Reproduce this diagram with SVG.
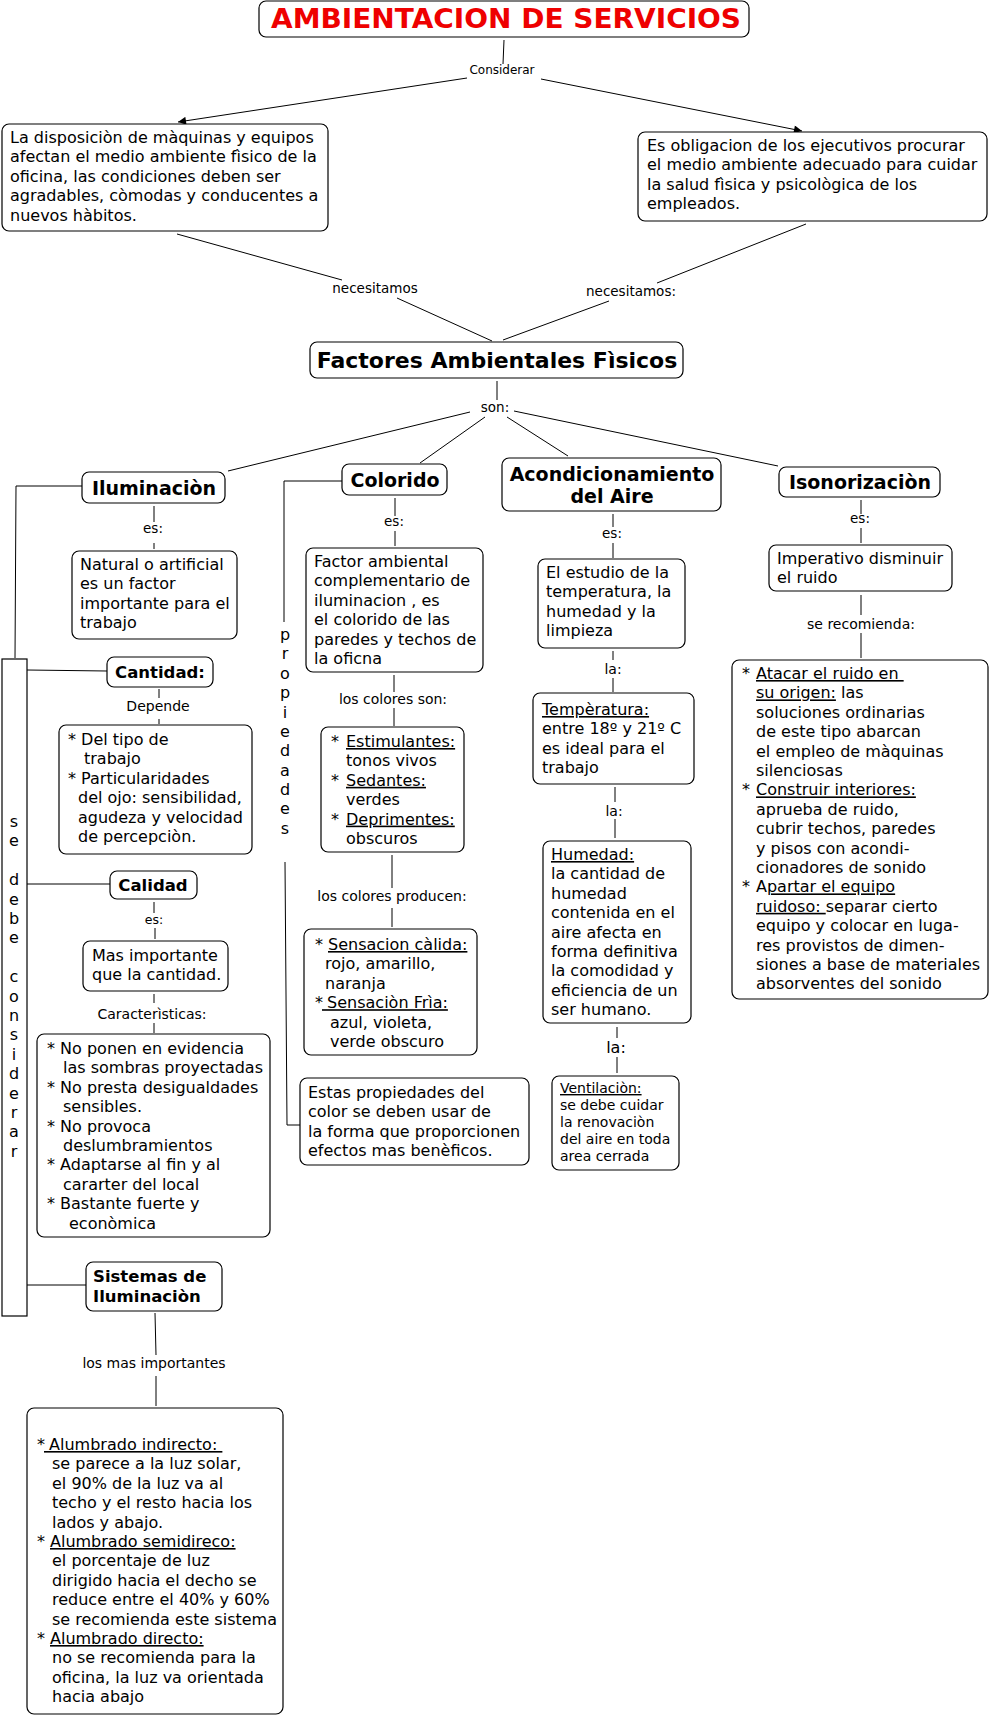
<svg xmlns="http://www.w3.org/2000/svg" width="990" height="1717" viewBox="0 0 990 1717">
<style>
text{font-family:"DejaVu Sans",Verdana,sans-serif;fill:#000}
.b{fill:#fff;stroke:#000;stroke-width:1.2}
.t{font-size:16px}
.s{font-size:14px}
.l{font-size:14px;text-anchor:middle}
.h{font-size:19px;font-weight:bold}
.m{font-size:16.5px;font-weight:bold}
.v{font-size:16px;text-anchor:middle}
.u{text-decoration:underline}
#connectors line,#connectors polyline{stroke:#000;stroke-width:1;fill:none}
</style>
<defs>
<marker id="ar" viewBox="0 0 10 10" refX="10" refY="5" markerWidth="10" markerHeight="8" markerUnits="userSpaceOnUse" orient="auto">
<path d="M0,0 L10,5 L0,10 z" fill="#000"/>
</marker>
</defs>
<rect width="990" height="1717" fill="#fff"/>

<g id="connectors">
<line x1="504" y1="40" x2="503" y2="64"/>
<line x1="467" y1="78" x2="178" y2="122" marker-end="url(#ar)"/>
<line x1="541" y1="79" x2="802" y2="131" marker-end="url(#ar)"/>
<line x1="177" y1="234" x2="342" y2="280"/>
<line x1="397" y1="298" x2="492" y2="341"/>
<line x1="806" y1="224" x2="657" y2="283"/>
<line x1="609" y1="301" x2="503" y2="340"/>
<line x1="497" y1="381" x2="497" y2="400"/>
<line x1="470" y1="412" x2="228" y2="471"/>
<line x1="485" y1="417" x2="420" y2="463"/>
<line x1="507" y1="417" x2="568" y2="456"/>
<line x1="514" y1="411" x2="778" y2="466"/>
<polyline points="82,486 16,486 15,658"/>
<line x1="154" y1="506" x2="154" y2="522"/>
<line x1="154" y1="543" x2="154" y2="549"/>
<line x1="27" y1="670" x2="107" y2="671"/>
<line x1="159" y1="689" x2="159" y2="698"/>
<line x1="159" y1="719" x2="159" y2="724"/>
<line x1="27" y1="884" x2="110" y2="884"/>
<line x1="154" y1="902" x2="154" y2="913"/>
<line x1="155" y1="928" x2="155" y2="939"/>
<line x1="154" y1="994" x2="154" y2="1003"/>
<line x1="154" y1="1023" x2="154" y2="1033"/>
<line x1="27" y1="1285" x2="86" y2="1285"/>
<line x1="155" y1="1313" x2="156" y2="1355"/>
<line x1="156" y1="1376" x2="156" y2="1406"/>
<polyline points="342,481 284,481 284,622"/>
<polyline points="285,862 287,1125 300,1125"/>
<line x1="395" y1="498" x2="395" y2="516"/>
<line x1="395" y1="531" x2="395" y2="546"/>
<line x1="394" y1="675" x2="394" y2="692"/>
<line x1="394" y1="708" x2="394" y2="726"/>
<line x1="392" y1="855" x2="392" y2="888"/>
<line x1="392" y1="908" x2="392" y2="927"/>
<line x1="613" y1="514" x2="613" y2="527"/>
<line x1="613" y1="543" x2="613" y2="558"/>
<line x1="613" y1="651" x2="613" y2="660"/>
<line x1="613" y1="678" x2="613" y2="692"/>
<line x1="615" y1="787" x2="615" y2="802"/>
<line x1="615" y1="819" x2="615" y2="838"/>
<line x1="617" y1="1027" x2="617" y2="1038"/>
<line x1="617" y1="1057" x2="617" y2="1073"/>
<line x1="861" y1="500" x2="861" y2="514"/>
<line x1="861" y1="528" x2="861" y2="543"/>
<line x1="861" y1="595" x2="861" y2="615"/>
<line x1="861" y1="633" x2="861" y2="658"/>
<text class="l" x="502" y="74" style="font-size:12px">Considerar</text>
<text class="l" x="375" y="293" style="font-size:13.5px">necesitamos</text>
<text class="l" x="631" y="296" style="font-size:13.5px">necesitamos:</text>
<text class="l" x="495" y="412" style="font-size:13.5px">son:</text>
<text class="l" x="153" y="533" style="font-size:13.5px">es:</text>
<text class="l" x="158" y="711">Depende</text>
<text class="l" x="154" y="924" style="font-size:12.5px">es:</text>
<text class="l" x="152" y="1019">Caracterìsticas:</text>
<text class="l" x="154" y="1368">los mas importantes</text>
<text class="l" x="394" y="526" style="font-size:13.5px">es:</text>
<text class="l" x="393" y="704">los colores son:</text>
<text class="l" x="392" y="901">los colores producen:</text>
<text class="l" x="612" y="538" style="font-size:13.5px">es:</text>
<text class="l" x="613" y="674">la:</text>
<text class="l" x="614" y="816">la:</text>
<text class="l" x="616" y="1053" style="font-size:16px">la:</text>
<text class="l" x="860" y="523" style="font-size:13.5px">es:</text>
<text class="l" x="861" y="629">se recomienda:</text>
</g>

<g id="title">
<rect class="b" x="259" y="1" width="490" height="36" rx="7"/>
<text x="271" y="28" style="font-size:26px;font-weight:bold;fill:#ee0000" textLength="470" lengthAdjust="spacingAndGlyphs">AMBIENTACION DE SERVICIOS</text>
</g>

<g id="disposicion">
<rect class="b" x="2" y="124" width="326" height="107" rx="7"/>
<text class="t"><tspan x="10" y="143">La disposiciòn de màquinas y equipos</tspan><tspan x="10" y="162.4">afectan el medio ambiente fìsico de la</tspan><tspan x="10" y="181.8">oficina, las condiciones deben ser</tspan><tspan x="10" y="201.2">agradables, còmodas y conducentes a</tspan><tspan x="10" y="220.6">nuevos hàbitos.</tspan></text>
</g>

<g id="obligacion">
<rect class="b" x="638" y="132" width="349" height="89" rx="7"/>
<text class="t"><tspan x="647" y="151">Es obligacion de los ejecutivos procurar</tspan><tspan x="647" y="170.4">el medio ambiente adecuado para cuidar</tspan><tspan x="647" y="189.8">la salud fìsica y psicològica de los</tspan><tspan x="647" y="209.2">empleados.</tspan></text>
</g>

<g id="factores">
<rect class="b" x="310" y="342" width="373" height="36" rx="7"/>
<text x="497" y="368" text-anchor="middle" style="font-size:22px;font-weight:bold">Factores Ambientales Fìsicos</text>
</g>

<g id="iluminacion">
<rect class="b" x="82" y="472" width="143" height="31" rx="7"/>
<text class="h" x="154" y="495" text-anchor="middle">Iluminaciòn</text>
</g>

<g id="natural">
<rect class="b" x="72" y="551" width="165" height="88" rx="7"/>
<text class="t"><tspan x="80" y="570">Natural o artificial</tspan><tspan x="80" y="589.4">es un factor</tspan><tspan x="80" y="608.8">importante para el</tspan><tspan x="80" y="628.2">trabajo</tspan></text>
</g>

<g id="considerar-bar">
<rect x="2" y="659" width="25" height="657" fill="#fff" stroke="#000" stroke-width="1.2"/>
<text class="v"><tspan x="14" y="827">s</tspan><tspan x="14" y="846.4">e</tspan><tspan x="14" y="885.2">d</tspan><tspan x="14" y="904.6">e</tspan><tspan x="14" y="924">b</tspan><tspan x="14" y="943.4">e</tspan><tspan x="14" y="982.2">c</tspan><tspan x="14" y="1001.6">o</tspan><tspan x="14" y="1021">n</tspan><tspan x="14" y="1040.4">s</tspan><tspan x="14" y="1059.8">i</tspan><tspan x="14" y="1079.2">d</tspan><tspan x="14" y="1098.6">e</tspan><tspan x="14" y="1118">r</tspan><tspan x="14" y="1137.4">a</tspan><tspan x="14" y="1156.8">r</tspan></text>
</g>

<g id="cantidad">
<rect class="b" x="107" y="657" width="106" height="30" rx="7"/>
<text class="m" x="160" y="678" text-anchor="middle">Cantidad:</text>
</g>

<g id="tipo">
<rect class="b" x="59" y="725" width="193" height="129" rx="7"/>
<text class="t"><tspan x="68" y="745">* Del tipo de</tspan><tspan x="84" y="764.4">trabajo</tspan><tspan x="68" y="783.8">* Particularidades</tspan><tspan x="78" y="803.2">del ojo: sensibilidad,</tspan><tspan x="78" y="822.6">agudeza y velocidad</tspan><tspan x="78" y="842">de percepciòn.</tspan></text>
</g>

<g id="calidad">
<rect class="b" x="110" y="871" width="87" height="28" rx="7"/>
<text class="m" x="153" y="891" text-anchor="middle">Calidad</text>
</g>

<g id="mas-importante">
<rect class="b" x="83" y="941" width="145" height="50" rx="7"/>
<text class="t"><tspan x="92" y="961">Mas importante</tspan><tspan x="92" y="980.4">que la cantidad.</tspan></text>
</g>

<g id="caracteristicas">
<rect class="b" x="37" y="1034" width="233" height="203" rx="7"/>
<text class="t"><tspan x="47" y="1054">* No ponen en evidencia</tspan><tspan x="63" y="1073.4">las sombras proyectadas</tspan><tspan x="47" y="1092.8">* No presta desigualdades</tspan><tspan x="63" y="1112.2">sensibles.</tspan><tspan x="47" y="1131.6">* No provoca</tspan><tspan x="63" y="1151">deslumbramientos</tspan><tspan x="47" y="1170.4">* Adaptarse al fin y al</tspan><tspan x="63" y="1189.8">cararter del local</tspan><tspan x="47" y="1209.2">* Bastante fuerte y</tspan><tspan x="69" y="1228.6">econòmica</tspan></text>
</g>

<g id="sistemas">
<rect class="b" x="86" y="1262" width="136" height="49" rx="7"/>
<text class="m"><tspan x="93" y="1282">Sistemas de</tspan><tspan x="93" y="1302">Iluminaciòn</tspan></text>
</g>

<g id="alumbrado">
<rect class="b" x="27" y="1408" width="256" height="306" rx="7"/>
<text class="t"><tspan x="37" y="1450">*</tspan><tspan class="u" x="44" y="1450" xml:space="preserve"> Alumbrado indirecto: </tspan><tspan x="52" y="1469.4">se parece a la luz solar,</tspan><tspan x="52" y="1488.8">el 90% de la luz va al</tspan><tspan x="52" y="1508.2">techo y el resto hacia los</tspan><tspan x="52" y="1527.6">lados y abajo.</tspan><tspan x="37" y="1547">*</tspan><tspan class="u" x="50" y="1547">Alumbrado semidireco:</tspan><tspan x="52" y="1566.4">el porcentaje de luz</tspan><tspan x="52" y="1585.8">dirigido hacia el decho se</tspan><tspan x="52" y="1605.2">reduce entre el 40% y 60%</tspan><tspan x="52" y="1624.6">se recomienda este sistema</tspan><tspan x="37" y="1644">*</tspan><tspan class="u" x="50" y="1644">Alumbrado directo:</tspan><tspan x="52" y="1663.4">no se recomienda para la</tspan><tspan x="52" y="1682.8">oficina, la luz va orientada</tspan><tspan x="52" y="1702.2">hacia abajo</tspan></text>
</g>

<g id="colorido">
<rect class="b" x="342" y="464" width="105" height="31" rx="7"/>
<text class="h" x="395" y="487" text-anchor="middle">Colorido</text>
</g>

<g id="propiedades-label">
<text class="v"><tspan x="285" y="640">p</tspan><tspan x="285" y="659.4">r</tspan><tspan x="285" y="678.8">o</tspan><tspan x="285" y="698.1">p</tspan><tspan x="285" y="717.5">i</tspan><tspan x="285" y="736.9">e</tspan><tspan x="285" y="756.3">d</tspan><tspan x="285" y="775.7">a</tspan><tspan x="285" y="795">d</tspan><tspan x="285" y="814.4">e</tspan><tspan x="285" y="833.8">s</tspan></text>
</g>

<g id="factor-ambiental">
<rect class="b" x="306" y="548" width="177" height="124" rx="7"/>
<text class="t"><tspan x="314" y="567">Factor ambiental</tspan><tspan x="314" y="586.4">complementario de</tspan><tspan x="314" y="605.8">iluminacion , es</tspan><tspan x="314" y="625.2">el colorido de las</tspan><tspan x="314" y="644.6">paredes y techos de</tspan><tspan x="314" y="664">la oficna</tspan></text>
</g>

<g id="estimulantes">
<rect class="b" x="321" y="727" width="143" height="125" rx="7"/>
<text class="t"><tspan x="331" y="747">*</tspan><tspan class="u" x="346" y="747">Estimulantes:</tspan><tspan x="346" y="766.4">tonos vivos</tspan><tspan x="331" y="785.8">*</tspan><tspan class="u" x="346" y="785.8">Sedantes:</tspan><tspan x="346" y="805.2">verdes</tspan><tspan x="331" y="824.6">*</tspan><tspan class="u" x="346" y="824.6">Deprimentes:</tspan><tspan x="346" y="844">obscuros</tspan></text>
</g>

<g id="sensacion">
<rect class="b" x="304" y="929" width="173" height="126" rx="7"/>
<text class="t"><tspan x="315" y="950">*</tspan><tspan class="u" x="328" y="950">Sensacion càlida:</tspan><tspan x="325" y="969.4">rojo, amarillo,</tspan><tspan x="325" y="988.8">naranja</tspan><tspan x="315" y="1008.2">*</tspan><tspan class="u" x="322" y="1008.2" xml:space="preserve"> Sensaciòn Frìa:</tspan><tspan x="330" y="1027.6">azul, violeta,</tspan><tspan x="330" y="1047">verde obscuro</tspan></text>
</g>

<g id="estas-propiedades">
<rect class="b" x="300" y="1078" width="229" height="87" rx="7"/>
<text class="t"><tspan x="308" y="1098">Estas propiedades del</tspan><tspan x="308" y="1117.4">color se deben usar de</tspan><tspan x="308" y="1136.8">la forma que proporcionen</tspan><tspan x="308" y="1156.2">efectos mas benèficos.</tspan></text>
</g>

<g id="acondicionamiento">
<rect class="b" x="502" y="458" width="219" height="53" rx="7"/>
<text class="h" text-anchor="middle"><tspan x="612" y="481">Acondicionamiento</tspan><tspan x="612" y="503">del Aire</tspan></text>
</g>

<g id="estudio">
<rect class="b" x="538" y="559" width="147" height="89" rx="7"/>
<text class="t"><tspan x="546" y="578">El estudio de la</tspan><tspan x="546" y="597.4">temperatura, la</tspan><tspan x="546" y="616.8">humedad y la</tspan><tspan x="546" y="636.2">limpieza</tspan></text>
</g>

<g id="temperatura">
<rect class="b" x="533" y="693" width="161" height="91" rx="7"/>
<text class="t"><tspan class="u" x="542" y="715">Tempèratura:</tspan><tspan x="542" y="734.4">entre 18º y 21º C</tspan><tspan x="542" y="753.8">es ideal para el</tspan><tspan x="542" y="773.2">trabajo</tspan></text>
</g>

<g id="humedad">
<rect class="b" x="543" y="841" width="148" height="182" rx="7"/>
<text class="t"><tspan class="u" x="551" y="860">Humedad:</tspan><tspan x="551" y="879.4">la cantidad de</tspan><tspan x="551" y="898.8">humedad</tspan><tspan x="551" y="918.2">contenida en el</tspan><tspan x="551" y="937.6">aire afecta en</tspan><tspan x="551" y="957">forma definitiva</tspan><tspan x="551" y="976.4">la comodidad y</tspan><tspan x="551" y="995.8">eficiencia de un</tspan><tspan x="551" y="1015.2">ser humano.</tspan></text>
</g>

<g id="ventilacion">
<rect class="b" x="552" y="1076" width="127" height="94" rx="7"/>
<text class="s"><tspan class="u" x="560" y="1093">Ventilaciòn:</tspan><tspan x="560" y="1110">se debe cuidar</tspan><tspan x="560" y="1127">la renovaciòn</tspan><tspan x="560" y="1144">del aire en toda</tspan><tspan x="560" y="1161">area cerrada</tspan></text>
</g>

<g id="isonorizacion">
<rect class="b" x="779" y="467" width="161" height="30" rx="7"/>
<text class="h" x="860" y="489" text-anchor="middle">Isonorizaciòn</text>
</g>

<g id="imperativo">
<rect class="b" x="769" y="545" width="183" height="46" rx="7"/>
<text class="t"><tspan x="777" y="564">Imperativo disminuir</tspan><tspan x="777" y="583.4">el ruido</tspan></text>
</g>

<g id="recomendaciones">
<rect class="b" x="732" y="660" width="256" height="339" rx="7"/>
<text class="t"><tspan x="742" y="679">*</tspan><tspan class="u" x="756" y="679" xml:space="preserve">Atacar el ruido en </tspan><tspan class="u" x="756" y="698.4">su origen:</tspan><tspan xml:space="preserve"> las</tspan><tspan x="756" y="717.8">soluciones ordinarias</tspan><tspan x="756" y="737.2">de este tipo abarcan</tspan><tspan x="756" y="756.6">el empleo de màquinas</tspan><tspan x="756" y="776">silenciosas</tspan><tspan x="742" y="795.4">*</tspan><tspan class="u" x="756" y="795.4">Construir interiores:</tspan><tspan x="756" y="814.8">aprueba de ruido,</tspan><tspan x="756" y="834.2">cubrir techos, paredes</tspan><tspan x="756" y="853.6">y pisos con acondi-</tspan><tspan x="756" y="873">cionadores de sonido</tspan><tspan x="742" y="892.4">*</tspan><tspan x="756" y="892.4">A</tspan><tspan class="u">partar el equipo</tspan><tspan class="u" x="756" y="911.8" xml:space="preserve">ruidoso: </tspan><tspan>separar cierto</tspan><tspan x="756" y="931.2">equipo y colocar en luga-</tspan><tspan x="756" y="950.6">res provistos de dimen-</tspan><tspan x="756" y="970">siones a base de materiales</tspan><tspan x="756" y="989.4">absorventes del sonido</tspan></text>
</g>
</svg>
